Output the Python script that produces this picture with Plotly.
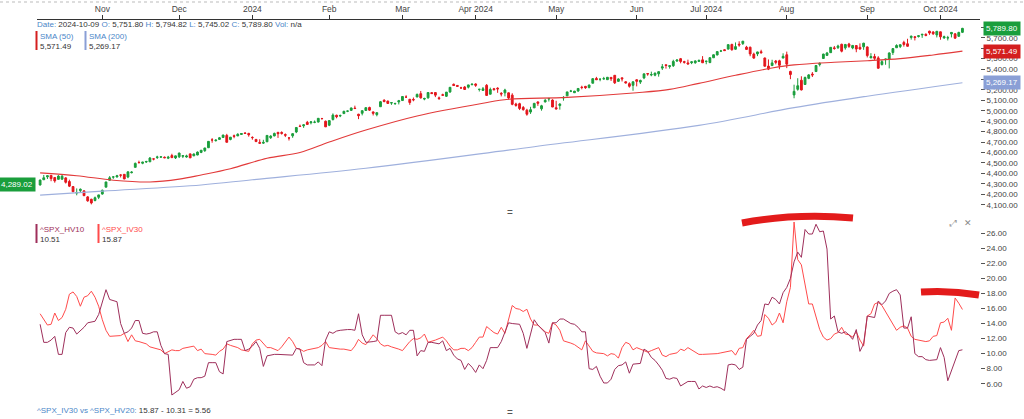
"""SPX daily candles with SMA 50/200 and a 10-day HV vs 30-day IV panel."""
import plotly.graph_objects as go
import pandas as pd

# trading calendar, 2023-10-09 .. 2024-10-09 (NYSE holidays removed)
holidays = ['2023-11-23', '2023-12-25', '2024-01-01', '2024-01-15', '2024-02-19',
            '2024-03-29', '2024-05-27', '2024-06-19', '2024-07-04', '2024-09-02']
dates = pd.bdate_range('2023-10-09', '2024-10-09', freq='C', holidays=holidays)
dates = [d.strftime('%Y-%m-%d') for d in dates]

month_labels = ['Nov', 'Dec', '2024', 'Feb', 'Mar', 'Apr 2024', 'May', 'Jun',
                'Jul 2024', 'Aug', 'Sep', 'Oct 2024']

opens = [
    4289, 4339, 4367, 4381, 4360, 4343, 4345, 4357, 4322, 4274, 4211, 4235, 4233, 4175, 4152, 4140, 4171,
    4202, 4268, 4334, 4365, 4366, 4385, 4391, 4365, 4407, 4458, 4505, 4497, 4509, 4511, 4539, 4553, 4555, 4555, 4546, 4571, 4548,
    4559, 4564, 4557, 4587, 4568, 4576, 4601, 4618, 4646, 4721, 4714, 4726, 4744, 4764, 4725, 4761, 4759, 4773, 4787, 4783,
    4745, 4726, 4697, 4690, 4703, 4742, 4759, 4793, 4792, 4772, 4740, 4760, 4797, 4853, 4856, 4889, 4886, 4889, 4892, 4926, 4900,
    4862, 4916, 4957, 4951, 4973, 4996, 5004, 5026, 4967, 4976, 5003, 5032, 4989, 4963, 5039, 5101, 5093, 5074, 5067, 5085,
    5098, 5131, 5110, 5109, 5132, 5164, 5112, 5124, 5174, 5175, 5124, 5154, 5139, 5181, 5254, 5243, 5220, 5228, 5226, 5249,
    5257, 5205, 5195, 5244, 5159, 5211, 5217, 5167, 5172, 5172, 5150, 5065, 5068, 5032, 5006, 4988, 5028, 5085, 5019, 5085, 5114, 5103,
    5029, 5050, 5123, 5143, 5188, 5173, 5189, 5226, 5234, 5222, 5264, 5310, 5303, 5305, 5298, 5320, 5340, 5282, 5316, 5278, 5260, 5244,
    5297, 5275, 5315, 5357, 5343, 5341, 5354, 5409, 5441, 5424, 5432, 5477, 5499, 5471, 5459, 5461, 5460, 5473, 5488,
    5472, 5462, 5508, 5535, 5572, 5585, 5591, 5636, 5590, 5638, 5644, 5610, 5609, 5543, 5545, 5566, 5506, 5428, 5433, 5477, 5479, 5505,
    5537, 5377, 5152, 5206, 5293, 5252, 5311, 5352, 5376, 5443, 5501, 5531, 5557, 5603, 5605, 5637, 5603, 5640, 5602, 5625, 5608, 5613,
    5612, 5507, 5520, 5507, 5443, 5491, 5496, 5558, 5604, 5615, 5655, 5642, 5703, 5709, 5711, 5727, 5733, 5763, 5755, 5727,
    5757, 5698, 5698, 5737, 5738, 5714, 5751.80,
]
highs = [
    4341, 4385, 4378, 4385, 4366, 4383, 4394, 4363, 4340, 4276, 4256, 4256, 4236, 4183, 4157, 4178, 4195,
    4245, 4320, 4374, 4373, 4386, 4391, 4393, 4418, 4421, 4504, 4522, 4511, 4521, 4557, 4542, 4569, 4560, 4562, 4568, 4588, 4570,
    4599, 4574, 4579, 4590, 4591, 4610, 4623, 4644, 4709, 4738, 4726, 4749, 4769, 4779, 4749, 4772, 4785, 4785, 4794, 4789,
    4755, 4729, 4727, 4722, 4765, 4766, 4791, 4798, 4803, 4783, 4745, 4782, 4842, 4868, 4867, 4903, 4898, 4907, 4929, 4932, 4906,
    4907, 4975, 4963, 4964, 5000, 5000, 5031, 5049, 4971, 5003, 5032, 5039, 4994, 4983, 5094, 5111, 5097, 5081, 5077, 5104,
    5140, 5149, 5114, 5127, 5165, 5190, 5125, 5179, 5180, 5180, 5136, 5164, 5180, 5226, 5261, 5247, 5230, 5236, 5249, 5264,
    5263, 5208, 5228, 5256, 5222, 5219, 5225, 5179, 5211, 5175, 5168, 5077, 5077, 5046, 5019, 5038, 5076, 5089, 5057, 5115, 5124, 5110,
    5096, 5073, 5140, 5181, 5200, 5191, 5215, 5240, 5238, 5250, 5311, 5325, 5305, 5325, 5324, 5323, 5342, 5311, 5316, 5283, 5273, 5281,
    5302, 5298, 5355, 5362, 5375, 5366, 5376, 5448, 5442, 5432, 5489, 5490, 5506, 5479, 5490, 5472, 5483, 5490, 5524,
    5480, 5509, 5539, 5570, 5583, 5590, 5635, 5642, 5655, 5666, 5669, 5622, 5615, 5557, 5566, 5585, 5509, 5492, 5489, 5487, 5489, 5551,
    5567, 5384, 5250, 5312, 5331, 5328, 5351, 5371, 5436, 5464, 5547, 5564, 5609, 5621, 5633, 5643, 5641, 5651, 5631, 5628, 5646, 5651,
    5616, 5552, 5546, 5523, 5485, 5497, 5560, 5600, 5637, 5636, 5671, 5690, 5721, 5716, 5721, 5735, 5742, 5767, 5763, 5763,
    5758, 5720, 5718, 5753, 5740, 5757, 5794.82,
]
lows = [
    4284, 4339, 4346, 4325, 4311, 4343, 4338, 4303, 4269, 4223, 4190, 4221, 4182, 4128, 4103, 4132, 4154,
    4197, 4268, 4334, 4348, 4361, 4361, 4344, 4354, 4400, 4458, 4496, 4488, 4500, 4511, 4525, 4538, 4553, 4546, 4537, 4547, 4538,
    4547, 4547, 4551, 4547, 4566, 4574, 4594, 4606, 4643, 4694, 4705, 4725, 4744, 4698, 4717, 4737, 4759, 4769, 4780, 4752,
    4723, 4700, 4688, 4683, 4700, 4730, 4756, 4740, 4772, 4748, 4715, 4741, 4786, 4845, 4836, 4866, 4870, 4881, 4888, 4916, 4845,
    4853, 4907, 4928, 4939, 4969, 4987, 4998, 5016, 4920, 4956, 4999, 4999, 4955, 4947, 5039, 5081, 5068, 5057, 5058, 5061,
    5094, 5127, 5057, 5091, 5131, 5117, 5101, 5116, 5162, 5131, 5105, 5146, 5132, 5171, 5240, 5230, 5216, 5203, 5214, 5247,
    5229, 5185, 5194, 5146, 5157, 5197, 5172, 5138, 5138, 5107, 5053, 5039, 5007, 5001, 4953, 4970, 5027, 5047, 5001, 5080, 5089, 5035,
    5013, 5011, 5097, 5143, 5179, 5171, 5183, 5206, 5210, 5216, 5264, 5297, 5283, 5299, 5297, 5286, 5257, 5278, 5281, 5262, 5222, 5192,
    5234, 5257, 5303, 5336, 5331, 5331, 5327, 5391, 5404, 5404, 5420, 5468, 5455, 5452, 5447, 5447, 5451, 5470, 5460,
    5446, 5457, 5508, 5531, 5563, 5574, 5587, 5576, 5584, 5614, 5631, 5584, 5523, 5498, 5524, 5550, 5425, 5390, 5431, 5445, 5398, 5505,
    5409, 5303, 5120, 5193, 5195, 5250, 5303, 5324, 5376, 5425, 5501, 5528, 5555, 5585, 5592, 5560, 5586, 5603, 5590, 5561, 5584, 5584,
    5511, 5504, 5487, 5403, 5434, 5441, 5406, 5535, 5604, 5601, 5615, 5616, 5682, 5674, 5703, 5699, 5714, 5728, 5727, 5703,
    5681, 5690, 5674, 5703, 5690, 5707, 5745.02,
]
closes = [
    4336, 4358, 4377, 4350, 4328, 4374, 4373, 4315, 4278, 4224, 4217, 4248, 4187, 4137, 4117, 4167, 4194,
    4238, 4318, 4358, 4366, 4378, 4383, 4347, 4415, 4412, 4496, 4503, 4508, 4514, 4547, 4538, 4557, 4559, 4550, 4555, 4551, 4568,
    4595, 4570, 4567, 4549, 4586, 4604, 4622, 4644, 4707, 4720, 4719, 4741, 4768, 4698, 4747, 4755, 4775, 4782, 4783, 4770,
    4743, 4705, 4689, 4697, 4764, 4757, 4783, 4780, 4784, 4766, 4739, 4781, 4840, 4850, 4865, 4869, 4894, 4891, 4928, 4925, 4846,
    4906, 4959, 4943, 4954, 4995, 4998, 5027, 5022, 4953, 5001, 5030, 5006, 4976, 4982, 5087, 5089, 5070, 5078, 5070, 5096,
    5137, 5131, 5079, 5105, 5157, 5124, 5118, 5175, 5165, 5150, 5117, 5149, 5179, 5225, 5242, 5234, 5218, 5204, 5248, 5254,
    5244, 5206, 5211, 5147, 5204, 5202, 5210, 5161, 5199, 5123, 5062, 5051, 5022, 5011, 4967, 5011, 5071, 5072, 5048, 5100, 5116, 5036,
    5018, 5064, 5128, 5181, 5188, 5188, 5214, 5223, 5221, 5247, 5308, 5297, 5303, 5308, 5321, 5307, 5268, 5305, 5306, 5267, 5235, 5278,
    5283, 5291, 5354, 5353, 5347, 5361, 5375, 5421, 5434, 5432, 5473, 5487, 5473, 5465, 5448, 5469, 5478, 5483, 5460,
    5475, 5509, 5537, 5567, 5573, 5577, 5634, 5585, 5615, 5631, 5667, 5588, 5545, 5505, 5564, 5556, 5427, 5399, 5459, 5464, 5436, 5522,
    5447, 5347, 5186, 5240, 5200, 5319, 5344, 5344, 5434, 5455, 5543, 5554, 5608, 5597, 5621, 5571, 5635, 5617, 5626, 5592, 5592, 5648,
    5529, 5520, 5503, 5408, 5471, 5496, 5554, 5596, 5626, 5633, 5635, 5618, 5714, 5703, 5719, 5733, 5722, 5745, 5738, 5762,
    5709, 5710, 5700, 5751, 5696, 5751, 5789.80,
]

sma50_dates = ['2023-10-09', '2023-10-23', '2023-11-06', '2023-11-20', '2023-12-01', '2023-12-11',
               '2023-12-21', '2024-01-08', '2024-01-22', '2024-02-01', '2024-02-15', '2024-03-07',
               '2024-04-03', '2024-04-12', '2024-05-06', '2024-06-03', '2024-06-14', '2024-06-27',
               '2024-07-12', '2024-07-26', '2024-08-05', '2024-08-20', '2024-09-03', '2024-09-16',
               '2024-09-27', '2024-10-09']
sma50 = [4405, 4378, 4335, 4318, 4345, 4385, 4445, 4545, 4600, 4700, 4815, 4950, 5072, 5110,
         5129, 5173, 5205, 5263, 5340, 5410, 5440, 5465, 5480, 5500, 5535, 5571.49]

sma200_dates = ['2023-10-09', '2023-11-01', '2023-12-11', '2024-01-02', '2024-02-15', '2024-04-23',
                '2024-06-27', '2024-08-05', '2024-09-03', '2024-10-09']
sma200 = [4192, 4230, 4289, 4339, 4449, 4656, 4860, 5030, 5140, 5269.17]

iv30 = [
    15.3, 14.5, 13.8, 13.9, 15.4, 14.4, 14.8, 15.9, 17.9, 18.2,
    17.6, 16.3, 17.5, 17.7, 18.3, 17.5, 16.3, 14.5, 13.1, 12.3,
    12.3, 12.3, 12.4, 12.7, 11.6, 12.5, 11.7, 11.6, 11.4, 11.3,
    10.9, 10.8, 10.7, 10.5, 10.0, 10.2, 10.5, 10.4, 10.4, 10.7,
    10.8, 10.8, 11.0, 10.4, 10.6, 10.0, 10.0, 9.9, 9.8, 10.3,
    10.6, 11.3, 11.1, 11.0, 10.8, 10.5, 10.4, 10.3, 11.3, 11.8,
    11.9, 11.4, 10.8, 10.8, 10.6, 10.4, 10.9, 11.6, 12.2, 11.6,
    10.7, 10.6, 10.3, 10.5, 10.6, 10.6, 10.8, 11.1, 11.6, 10.8,
    10.7, 10.7, 10.6, 10.6, 10.5, 10.4, 11.0, 11.9, 11.4, 11.2,
    11.8, 12.5, 12.0, 11.3, 11.0, 11.1, 10.9, 10.8, 10.6, 10.4,
    11.0, 11.6, 12.0, 11.9, 12.1, 12.6, 11.5, 11.6, 11.8, 12.0,
    12.2, 11.7, 11.0, 10.5, 10.5, 10.7, 10.7, 10.4, 10.8, 11.5,
    12.2, 12.2, 13.6, 13.2, 12.8, 12.6, 13.5, 12.7, 14.5, 16.4,
    16.0, 15.9, 15.6, 15.9, 14.6, 13.8, 13.8, 13.4, 12.9, 12.7,
    14.1, 13.8, 13.1, 11.7, 11.6, 11.4, 11.2, 10.8, 10.5, 11.7,
    11.0, 10.3, 10.1, 10.0, 10.0, 9.7, 10.0, 9.9, 9.4, 10.8,
    11.5, 11.3, 10.5, 10.8, 10.6, 10.5, 10.2, 10.4, 10.6, 10.8,
    9.8, 9.6, 9.9, 10.0, 10.1, 10.6, 10.4, 10.8, 10.5, 10.3,
    9.9, 9.9, 9.9, 9.9, 9.9, 10.0, 10.1, 10.2, 10.3, 10.4,
    9.8, 10.7, 10.8, 12.0, 12.5, 13.1, 12.3, 12.4, 15.2, 14.7,
    13.8, 14.2, 15.4, 14.1, 16.9, 18.8, 27.5, 22.5, 21.8, 19.2,
    16.6, 16.6, 15.0, 13.2, 12.2, 11.8, 12.0, 12.6, 12.8, 13.5,
    12.6, 12.5, 12.2, 12.9, 11.8, 11.0, 15.0, 15.3, 16.6, 16.8,
    16.4, 15.6, 14.7, 13.9, 13.1, 13.5, 13.7, 13.4, 12.3, 11.9,
    11.8, 11.7, 11.6, 11.7, 12.3, 12.4, 14.1, 14.2, 14.7, 13.1,
    17.4, 16.7, 15.87,
]
hv10 = [
    13.9, 11.5, 11.5, 11.8, 12.3, 9.9, 9.9, 12.8, 13.5, 13.4,
    12.6, 13.0, 13.5, 14.1, 14.2, 14.3, 15.2, 16.7, 18.5, 17.2,
    17.0, 16.9, 14.0, 12.7, 12.9, 13.4, 14.4, 14.4, 12.7, 12.6,
    12.7, 12.9, 12.9, 11.1, 10.0, 9.9, 4.5, 4.8, 5.2, 6.3,
    5.4, 5.6, 6.6, 6.8, 6.8, 7.0, 8.8, 8.8, 8.8, 7.6,
    7.3, 11.6, 11.8, 11.9, 11.9, 11.9, 10.4, 10.6, 11.0, 11.6,
    10.7, 8.3, 9.7, 9.8, 9.9, 9.9, 9.9, 9.9, 9.9, 9.8,
    10.7, 10.6, 8.8, 8.5, 8.5, 8.5, 8.9, 8.4, 11.8, 12.9,
    12.7, 13.0, 13.1, 13.2, 13.2, 13.2, 13.1, 15.3, 12.5, 11.5,
    11.6, 11.6, 11.7, 15.1, 15.1, 15.1, 15.1, 12.9, 12.6, 12.8,
    12.5, 13.1, 13.1, 9.7, 10.4, 10.3, 11.5, 11.5, 11.4, 11.3,
    11.7, 10.4, 10.7, 9.8, 9.3, 9.1, 7.9, 8.7, 8.2, 7.5,
    8.5, 8.0, 9.1, 10.8, 10.8, 10.8, 11.6, 12.8, 14.1, 14.0,
    14.0, 13.9, 12.7, 10.7, 12.6, 14.5, 13.8, 13.3, 12.8, 11.4,
    14.1, 14.1, 14.6, 14.6, 14.3, 14.0, 13.9, 13.5, 12.9, 12.9,
    8.0, 7.9, 8.3, 7.0, 6.1, 6.1, 6.6, 7.9, 8.4, 8.5,
    8.9, 7.4, 8.6, 8.7, 8.7, 10.6, 10.3, 9.5, 9.1, 8.5,
    7.8, 6.7, 6.6, 6.8, 6.7, 5.7, 6.0, 6.3, 6.3, 6.3,
    5.3, 5.7, 5.5, 5.7, 5.5, 5.6, 5.4, 5.1, 8.5, 8.6,
    8.5, 7.9, 8.2, 11.9, 12.3, 12.7, 13.8, 14.4, 16.6, 16.5,
    17.5, 17.2, 16.6, 18.1, 18.8, 20.0, 22.2, 23.5, 22.8, 26.5,
    25.9, 25.9, 27.2, 26.2, 26.3, 23.9, 14.6, 15.0, 12.9, 12.7,
    12.9, 12.5, 11.9, 13.2, 10.3, 11.3, 15.0, 14.9, 14.8, 17.0,
    16.5, 17.0, 18.0, 18.3, 18.5, 17.8, 13.4, 13.4, 14.9, 10.0,
    9.6, 9.6, 9.2, 9.1, 9.2, 9.2, 10.8, 9.5, 6.4, 7.8,
    9.1, 10.4, 10.51,
]

GREEN = '#1a9e3c'
RED = '#e3161c'
SMA50_COL = '#e23a3a'
SMA200_COL = '#9fb0dd'
HV_COL = '#9e2f5b'
IV_COL = '#ff4b4b'
LBL = '#4a86c8'
TXT = '#333333'
FONT = 'Arial, Liberation Sans, sans-serif'
FS = 8

# plot area in pixels: left 37, right 980, top 20, bottom 402
W, H = 1024, 419
L, R, T, B = 37, 44, 20, 17


def px(x):
    return (x - L) / (W - L - R)


def py(y):
    return (H - B - y) / (H - T - B)


# first trading day of each month for the top axis ticks
tick_dates = []
for d in dates:
    m = d[:7]
    if m != dates[0][:7] and (not tick_dates or tick_dates[-1][:7] != m):
        tick_dates.append(d)

fig = go.Figure()
fig.add_trace(go.Candlestick(
    x=dates, open=opens, high=highs, low=lows, close=closes,
    xaxis='x', yaxis='y', whiskerwidth=0, showlegend=False, hoverinfo='skip',
    increasing=dict(line=dict(color=GREEN, width=1), fillcolor=GREEN),
    decreasing=dict(line=dict(color=RED, width=1), fillcolor=RED)))
fig.add_trace(go.Scatter(x=sma50_dates, y=sma50, mode='lines', xaxis='x', yaxis='y',
                         line=dict(color=SMA50_COL, width=1.1, shape='spline'),
                         showlegend=False, hoverinfo='skip'))
fig.add_trace(go.Scatter(x=sma200_dates, y=sma200, mode='lines', xaxis='x', yaxis='y',
                         line=dict(color=SMA200_COL, width=1.1, shape='spline'),
                         showlegend=False, hoverinfo='skip'))
fig.add_trace(go.Scatter(x=dates, y=iv30, mode='lines', xaxis='x2', yaxis='y2',
                         line=dict(color=IV_COL, width=1), showlegend=False, hoverinfo='skip'))
fig.add_trace(go.Scatter(x=dates, y=hv10, mode='lines', xaxis='x2', yaxis='y2',
                         line=dict(color=HV_COL, width=1), showlegend=False, hoverinfo='skip'))

xr = [-0.85, 256.8]
fig.update_layout(
    width=W, height=H, margin=dict(l=L, r=R, t=T, b=B, autoexpand=False),
    paper_bgcolor='white', plot_bgcolor='white',
    font=dict(family=FONT, size=FS, color=TXT),
    xaxis=dict(domain=[0, 1], anchor='y', side='top', type='category',
               categoryorder='array', categoryarray=dates, range=xr, automargin=False,
               tickvals=tick_dates, ticktext=month_labels, ticks='outside', ticklen=4,
               tickcolor='#333', showline=True, linecolor='#333', linewidth=1,
               showgrid=False, rangeslider=dict(visible=False),
               tickfont=dict(size=8.5, color='#444')),
    xaxis2=dict(domain=[0, 1], anchor='y2', type='category', categoryorder='array',
                categoryarray=dates, range=xr, matches='x', showticklabels=False,
                automargin=False, ticks='', showline=False, showgrid=False),
    yaxis=dict(domain=[py(207), 1], side='right', range=[4078, 5870], dtick=100,
               tickformat=',.2f', ticks='outside', ticklen=4, tickcolor='#555',
               automargin=False, showgrid=False, zeroline=False,
               tickfont=dict(size=FS, color='#444')),
    yaxis2=dict(domain=[0, py(218)], side='right', range=[3.57, 28.03],
                tickvals=[6, 8, 10, 12, 14, 16, 18, 20, 22, 24, 26], tickformat='.2f',
                ticks='outside', ticklen=4, tickcolor='#555', automargin=False,
                showgrid=False, zeroline=False, tickfont=dict(size=FS, color='#444')),
)

ann = []


def text(x, y, s, size=FS, color=TXT, xanchor='left'):
    ann.append(dict(x=px(x), y=py(y), xref='paper', yref='paper', text=s, showarrow=False,
                    xanchor=xanchor, yanchor='middle', font=dict(size=size, color=color)))


def lab(s):
    return f'<span style="color:{LBL}">{s}</span>'


text(35, 25, lab('Date:') + ' 2024-10-09 ' + lab('O:') + ' 5,751.80 ' + lab('H:') +
     ' 5,794.82 ' + lab('L:') + ' 5,745.02 ' + lab('C:') + ' 5,789.80 ' + lab('Vol:') + ' n/a')
text(38, 36, 'SMA (50)', color=LBL)
text(38, 46, '5,571.49')
text(87, 36, 'SMA (200)', color=LBL)
text(87, 46, '5,269.17')
text(38, 229, '^SPX_HV10', color=HV_COL)
text(38, 239, '10.51')
text(100, 229, '^SPX_IV30', color=IV_COL)
text(100, 239, '15.87')
text(35, 410, lab('^SPX_IV30 vs ^SPX_HV20:') + ' 15.87 - 10.31 = 5.56')
text(510, 212, '=', size=10, color='#555', xanchor='center')
text(510, 412, '=', size=10, color='#555', xanchor='center')
text(953, 223, '⤢', size=9, color='#999', xanchor='center')
text(968, 223, '✕', size=9, color='#888', xanchor='center')

# value tags on the price axis
for val, s, col in [(5789.80, '5,789.80', GREEN), (5571.49, '5,571.49', '#d41f1f'),
                    (5269.17, '5,269.17', '#8a9fd6')]:
    ann.append(dict(x=1, xref='paper', xanchor='left', xshift=3, y=val, yref='y', text=s,
                    showarrow=False, bgcolor=col, borderpad=2,
                    font=dict(size=FS, color='white')))
ann.append(dict(x=0, xref='paper', xanchor='right', xshift=-1, y=opens[0], yref='y',
                text='4,289.02', showarrow=False, bgcolor=GREEN, borderpad=2,
                font=dict(size=FS, color='white')))
fig.update_layout(annotations=ann)

shapes = [
    dict(type='line', xref='paper', yref='paper', x0=px(0), x1=px(W), y0=py(2), y1=py(2),
         line=dict(color='#bbb', width=1, dash='dot')),
    dict(type='rect', xref='paper', yref='paper', x0=px(35.5), x1=px(37.5), y0=py(50), y1=py(31),
         fillcolor='#d41f1f', line=dict(width=0)),
    dict(type='rect', xref='paper', yref='paper', x0=px(84.5), x1=px(86.5), y0=py(50), y1=py(31),
         fillcolor='#8a9fd6', line=dict(width=0)),
    dict(type='rect', xref='paper', yref='paper', x0=px(35.5), x1=px(37.5), y0=py(243), y1=py(224),
         fillcolor=HV_COL, line=dict(width=0)),
    dict(type='rect', xref='paper', yref='paper', x0=px(97.5), x1=px(99.5), y0=py(243), y1=py(224),
         fillcolor=IV_COL, line=dict(width=0)),
]
# hand-drawn red highlight strokes
for (x0, y0), (cx, cy), (x1, y1), w in [((742, 223), (795, 213), (853, 218), 7),
                                          ((921, 292), (950, 290), (979, 295), 7)]:
    shapes.append(dict(type='path', xref='paper', yref='paper',
                       path=f'M {px(x0)},{py(y0)} Q {px(cx)},{py(cy)} {px(x1)},{py(y1)}',
                       line=dict(color='#e31b1b', width=w)))
fig.update_layout(shapes=shapes)

fig.write_html('out.html', config={'displayModeBar': False},
               post_script="document.body.style.margin='0';")
